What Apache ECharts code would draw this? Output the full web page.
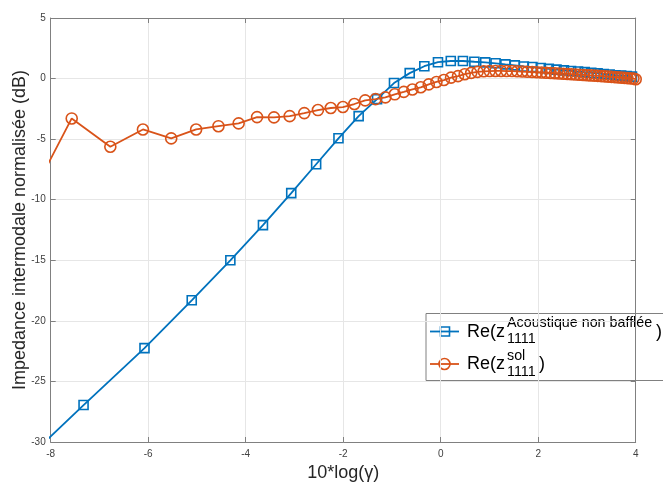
<!DOCTYPE html>
<html>
<head>
<meta charset="utf-8">
<script src="https://cdn.jsdelivr.net/npm/echarts@6/dist/echarts.min.js"></script>
<style>
html,body{margin:0;padding:0;background:#fff;}
#c{width:663px;height:482px;}
</style>
</head>
<body>
<div id="c"></div>
<script>
// 10*log(gamma) positions and values (dB)
const blueX = [-9.087,-7.326,-6.076,-5.107,-4.315,-3.646,-3.066,-2.555,-2.097,-1.683,-1.305,-0.958,-0.636,-0.336,-0.056,0.207,0.456,0.691,0.913,1.125,1.327,1.520,1.705,1.882,2.053,2.217,2.375,2.527,2.674,2.817,2.954,3.088,3.218,3.344,3.466,3.585,3.701,3.814,3.924];
const blueY = [-33.7,-26.95,-22.25,-18.3,-15.0,-12.1,-9.46,-7.07,-4.93,-3.1,-1.7,-0.37,0.45,1.02,1.35,1.45,1.45,1.39,1.34,1.26,1.17,1.09,1.0,0.95,0.87,0.80,0.74,0.68,0.63,0.58,0.53,0.48,0.43,0.38,0.33,0.28,0.24,0.20,0.16];

const orangeX = [-8.538,-7.569,-6.777,-6.108,-5.528,-5.017,-4.559,-4.145,-3.767,-3.420,-3.098,-2.798,-2.518,-2.255,-2.006,-1.771,-1.549,-1.337,-1.135,-0.942,-0.757,-0.580,-0.409,-0.245,-0.087,0.065,0.212,0.355,0.492,0.626,0.756,0.882,1.004,1.123,1.239,1.352,1.462,1.569,1.673,1.776,1.876,1.973,2.069,2.162,2.253,2.343,2.431,2.517,2.601,2.684,2.765,2.845,2.923,3.000,3.075,3.150,3.223,3.294,3.365,3.434,3.503,3.570,3.636,3.702,3.766,3.829,3.892,3.954,4.0];
const orangeY = [-10.8,-3.29,-5.63,-4.2,-4.94,-4.2,-3.93,-3.7,-3.18,-3.2,-3.1,-2.85,-2.6,-2.43,-2.35,-2.1,-1.8,-1.7,-1.55,-1.3,-1.1,-0.9,-0.72,-0.48,-0.28,-0.12,0.08,0.2,0.36,0.47,0.55,0.6,0.62,0.63,0.63,0.62,0.62,0.6,0.58,0.56,0.54,0.52,0.5,0.48,0.46,0.44,0.42,0.40,0.38,0.36,0.34,0.32,0.30,0.28,0.26,0.24,0.22,0.20,0.18,0.16,0.14,0.12,0.10,0.08,0.06,0.04,0.02,0.0,-0.05];

const xTicks = [-8,-6,-4,-2,0,2,4];
const yTicks = [-30,-25,-20,-15,-10,-5,0,5];

const seriesNames = ['Re(z Acoustique non bafflée 1111)', 'Re(z sol 1111)'];
const BLUE = '#0072BD', ORANGE = '#D95319';
const FONT = '"Liberation Sans", Arial, Helvetica, sans-serif';

const pairs = (xs, ys) => xs.map((x, i) => [x, ys[i]]);

const chart = echarts.init(document.getElementById('c'), null, {renderer: 'canvas'});

const axisCommon = {
  axisLine: {show: true, onZero: false, lineStyle: {color: '#808080', width: 1}},
  axisTick: {show: true, inside: true, length: 5, lineStyle: {color: '#808080'}}
};

const option = {
  animation: false,
  backgroundColor: '#fff',
  grid: {left: 50.7, right: 27.3, top: 18, bottom: 40, containLabel: false, outerBoundsMode: 'none'},
  xAxis: [
    Object.assign({
      type: 'value', min: xTicks[0], max: xTicks[xTicks.length-1], interval: 2, position: 'bottom',
      name: '10*log(γ)', nameLocation: 'middle', nameGap: 22, nameMoveOverlap: false,
      nameTextStyle: {fontFamily: FONT, fontSize: 18, color: '#262626'},
      axisLabel: {fontFamily: FONT, fontSize: 10, color: '#404040', margin: 7},
      splitLine: {show: true, lineStyle: {color: '#e6e6e6', width: 1}}
    }, axisCommon),
    Object.assign({
      type: 'value', min: xTicks[0], max: xTicks[xTicks.length-1], interval: 2, position: 'top',
      axisLabel: {show: false}, splitLine: {show: false}
    }, axisCommon)
  ],
  yAxis: [
    Object.assign({
      type: 'value', min: yTicks[0], max: yTicks[yTicks.length-1], interval: 5, position: 'left',
      name: 'Impedance intermodale normalisée (dB)', nameLocation: 'middle', nameGap: 22, nameMoveOverlap: false,
      nameTextStyle: {fontFamily: FONT, fontSize: 18, color: '#262626'},
      axisLabel: {fontFamily: FONT, fontSize: 10, color: '#404040', margin: 5},
      splitLine: {show: true, lineStyle: {color: '#e6e6e6', width: 1}}
    }, axisCommon),
    Object.assign({
      type: 'value', min: yTicks[0], max: yTicks[yTicks.length-1], interval: 5, position: 'right',
      axisLabel: {show: false}, splitLine: {show: false}
    }, axisCommon)
  ],
  series: [
    {
      name: seriesNames[0], type: 'line', xAxisIndex: 0, yAxisIndex: 0,
      data: pairs(blueX, blueY), clip: true,
      symbol: 'rect', symbolSize: 9, showAllSymbol: true,
      lineStyle: {color: BLUE, width: 1.8},
      itemStyle: {color: 'rgba(255,255,255,0)', borderColor: BLUE, borderWidth: 1.6},
      z: 2
    },
    {
      name: seriesNames[1], type: 'line', xAxisIndex: 0, yAxisIndex: 0,
      data: pairs(orangeX, orangeY), clip: true,
      symbol: 'circle', symbolSize: 11, showAllSymbol: true,
      lineStyle: {color: ORANGE, width: 1.8},
      itemStyle: {color: 'rgba(255,255,255,0)', borderColor: ORANGE, borderWidth: 1.6},
      z: 3
    }
  ],
  graphic: [{
    type: 'group', z: 100,
    children: [
      {type: 'rect', shape: {x: 426, y: 313.5, width: 300, height: 67}, style: {fill: '#fff', stroke: '#808080', lineWidth: 1}},
      {type: 'line', shape: {x1: 430, y1: 331.5, x2: 459, y2: 331.5}, style: {stroke: BLUE, lineWidth: 1.8}},
      {type: 'rect', shape: {x: 440.5, y: 327, width: 9, height: 9}, style: {fill: 'rgba(255,255,255,0)', stroke: BLUE, lineWidth: 1.6}},
      {type: 'text', style: {x: 467, y: 331.8, text: 'Re(z', font: '18px ' + FONT, fill: '#000', verticalAlign: 'middle'}},
      {type: 'text', style: {x: 507, y: 323.3, text: 'Acoustique non bafflée', font: '14.3px ' + FONT, fill: '#000', verticalAlign: 'middle'}},
      {type: 'text', style: {x: 507, y: 339, text: '1111', font: '14.3px ' + FONT, fill: '#000', verticalAlign: 'middle'}},
      {type: 'text', style: {x: 656, y: 331.8, text: ')', font: '18px ' + FONT, fill: '#000', verticalAlign: 'middle'}},
      {type: 'line', shape: {x1: 430, y1: 364, x2: 459, y2: 364}, style: {stroke: ORANGE, lineWidth: 1.8}},
      {type: 'circle', shape: {cx: 444.5, cy: 364, r: 5.5}, style: {fill: 'rgba(255,255,255,0)', stroke: ORANGE, lineWidth: 1.6}},
      {type: 'text', style: {x: 467, y: 364.3, text: 'Re(z', font: '18px ' + FONT, fill: '#000', verticalAlign: 'middle'}},
      {type: 'text', style: {x: 507, y: 356, text: 'sol', font: '14.3px ' + FONT, fill: '#000', verticalAlign: 'middle'}},
      {type: 'text', style: {x: 507, y: 372, text: '1111', font: '14.3px ' + FONT, fill: '#000', verticalAlign: 'middle'}},
      {type: 'text', style: {x: 539, y: 364.3, text: ')', font: '18px ' + FONT, fill: '#000', verticalAlign: 'middle'}}
    ]
  }]
};
chart.setOption(option);
</script>
</body>
</html>
